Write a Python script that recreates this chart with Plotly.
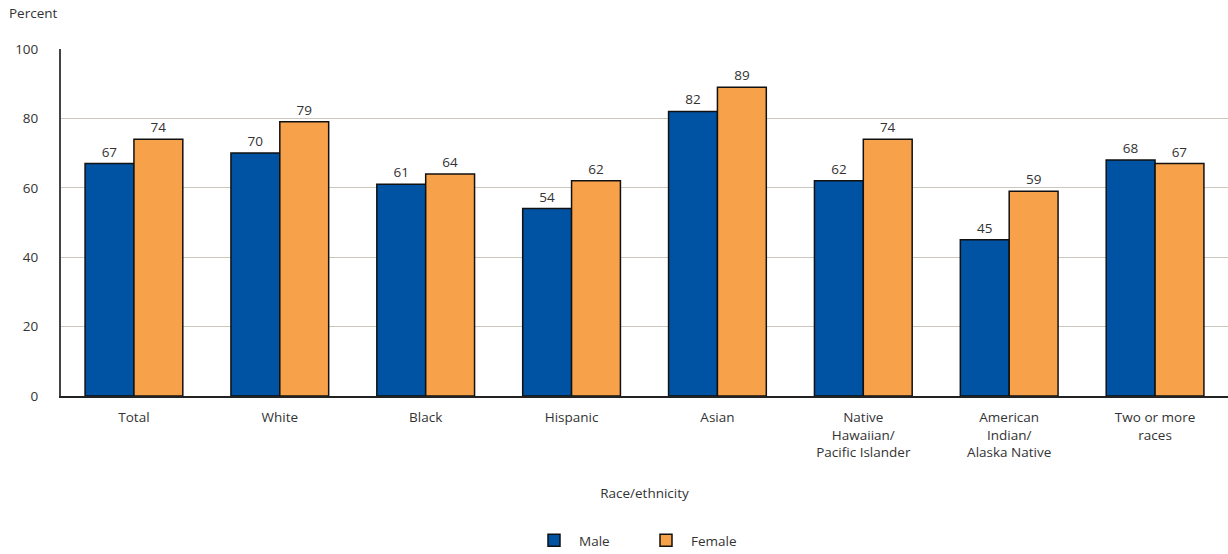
import plotly.graph_objects as go

categories = ["Total", "White", "Black", "Hispanic", "Asian",
              "Native<br>Hawaiian/<br>Pacific Islander",
              "American<br>Indian/<br>Alaska Native",
              "Two or more<br>races"]
male = [67, 70, 61, 54, 82, 62, 45, 68]
female = [74, 79, 64, 62, 89, 74, 59, 67]
y_ticks = [0, 20, 40, 60, 80, 100]

FONT = "Open Sans"
TXT = "#333333"

fig = go.Figure()
fig.add_trace(go.Bar(
    name="Male", x=categories, y=male,
    marker=dict(color="#0052a3", line=dict(color="#111111", width=1.5)),
    text=[str(v) for v in male], textposition="outside",
    textfont=dict(family=FONT, size=13.5, color=TXT), cliponaxis=False,
))
fig.add_trace(go.Bar(
    name="Female", x=categories, y=female,
    marker=dict(color="#f7a24a", line=dict(color="#111111", width=1.5)),
    text=[str(v) for v in female], textposition="outside",
    textfont=dict(family=FONT, size=13.5, color=TXT), cliponaxis=False,
))

fig.update_layout(
    width=1228, height=554,
    margin=dict(l=61, r=0, t=49, b=158, autoexpand=False),
    paper_bgcolor="white", plot_bgcolor="white",
    font=dict(family=FONT, size=13.5, color=TXT),
    barmode="group", bargap=0.33, bargroupgap=0,
    showlegend=True,
    legend=dict(orientation="h", x=0.497, xanchor="center", y=-0.372, yanchor="top",
                font=dict(family=FONT, size=13.5, color=TXT),
                itemwidth=40, entrywidth=57, traceorder="normal"),
    xaxis=dict(
        tickfont=dict(family=FONT, size=13.5, color=TXT),
        showline=True, linecolor="#222222", linewidth=2,
        ticks="outside", ticklen=8, tickcolor="rgba(0,0,0,0)", showgrid=False,
        title=dict(text="Race/ethnicity", font=dict(family=FONT, size=13.5, color=TXT), standoff=28),
    ),
    yaxis=dict(
        range=[0, 100], tickvals=y_ticks,
        tickfont=dict(family=FONT, size=13.5, color=TXT),
        showline=True, linecolor="#444444", linewidth=2,
        showgrid=True, gridcolor="#cbc7bb", gridwidth=1.2,
        zeroline=False, ticks="", ticklabelstandoff=18,
    ),
    annotations=[dict(text="Percent", xref="paper", yref="paper", x=-0.046, y=1.0,
                      xanchor="left", yanchor="bottom", yshift=25, showarrow=False,
                      font=dict(family=FONT, size=13.5, color=TXT))],
)

fig.write_html("out.html")
